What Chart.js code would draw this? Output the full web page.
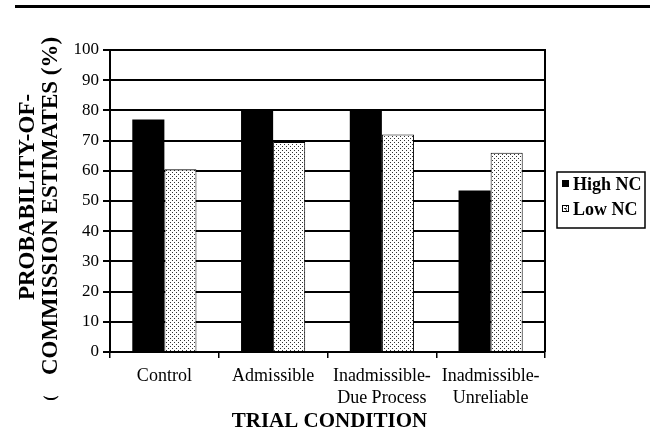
<!DOCTYPE html>
<html>
<head>
<meta charset="utf-8">
<script src="https://cdn.jsdelivr.net/npm/chart.js@4/dist/chart.umd.min.js"></script>
<style>
  html, body { margin: 0; padding: 0; background: #ffffff; }
  #wrap { width: 650px; height: 436px; }
</style>
</head>
<body>
<div id="wrap"><canvas id="c" width="650" height="436"></canvas></div>
<script>
// ---- data ----
const categories = [["Control"], ["Admissible"], ["Inadmissible-", "Due Process"], ["Inadmissible-", "Unreliable"]];
const highNC = [77, 80.5, 80, 53.5];
const lowNC = [60.5, 69.5, 72, 66];
const seriesNames = ["High NC", "Low NC"];
const yTicks = [0, 10, 20, 30, 40, 50, 60, 70, 80, 90, 100];
const yTitleLines = ["PROBABILITY-OF-", "COMMISSION ESTIMATES (%)"];
const xTitle = "TRIAL CONDITION";

// dotted pattern fill
function makePattern() {
  const p = document.createElement('canvas');
  p.width = 4; p.height = 4;
  const g = p.getContext('2d');
  g.fillStyle = '#ffffff'; g.fillRect(0, 0, 4, 4);
  g.fillStyle = '#333333';
  g.fillRect(0, 0, 1, 1);
  g.fillRect(2, 2, 1, 1);
  return g.createPattern(p, 'repeat');
}
const dots = makePattern();

const SERIF = '"Liberation Serif", "Times New Roman", serif';

const decor = {
  id: 'decor',
  beforeDraw(chart) {
    const ctx = chart.ctx;
    ctx.save();
    ctx.fillStyle = '#fff';
    ctx.fillRect(0, 0, chart.width, chart.height);
    // top rule
    ctx.fillStyle = '#000';
    ctx.fillRect(15, 5, 635, 3);
    ctx.restore();
  },
  afterDraw(chart) {
    const ctx = chart.ctx;
    const a = chart.chartArea;
    ctx.save();
    // right border of plot
    ctx.strokeStyle = '#000';
    ctx.lineWidth = 2;
    ctx.beginPath();
    ctx.moveTo(a.right, a.top - 1);
    ctx.lineTo(a.right, a.bottom);
    ctx.stroke();

    // y title (rotated)
    ctx.fillStyle = '#000';
    ctx.font = 'bold 23px ' + SERIF;
    ctx.textAlign = 'center';
    ctx.textBaseline = 'middle';
    const yc = [197, 206];
    const xc = [28, 51];
    for (let i = 0; i < yTitleLines.length; i++) {
      ctx.save();
      ctx.translate(xc[i], yc[i]);
      ctx.rotate(-Math.PI / 2);
      ctx.fillText(yTitleLines[i], 0, 0);
      ctx.restore();
    }
    // stray scanned bracket below title
    ctx.save();
    ctx.translate(51, 398);
    ctx.rotate(-Math.PI / 2);
    ctx.font = 'bold 16px ' + SERIF;
    ctx.fillText('(', 0, 0);
    ctx.restore();

    // x title
    ctx.font = 'bold 21px ' + SERIF;
    ctx.textBaseline = 'alphabetic';
    ctx.fillText(xTitle, (a.left + a.right) / 2 + 2, 427);

    // legend
    const lx = a.right + 12, ly = 172, lw = 88, lh = 56;
    ctx.lineWidth = 1.5;
    ctx.strokeStyle = '#000';
    ctx.strokeRect(lx, ly, lw, lh);
    ctx.font = 'bold 18px ' + SERIF;
    ctx.textAlign = 'left';
    const ds = chart.data.datasets;
    const base = [190, 215];
    for (let i = 0; i < ds.length; i++) {
      const sx = lx + 5, sy = base[i] - 10;
      ctx.fillStyle = ds[i].backgroundColor;
      ctx.fillRect(sx, sy, 7, 7);
      ctx.lineWidth = 1;
      ctx.strokeStyle = '#000';
      ctx.strokeRect(sx + 0.5, sy + 0.5, 6, 6);
      if (i === 1) { ctx.fillStyle = '#000'; ctx.fillRect(sx + 3, sy + 3, 1.5, 1.5); }
      ctx.fillStyle = '#000';
      ctx.fillText(ds[i].label, lx + 16, base[i]);
    }
    ctx.restore();
  }
};

new Chart(document.getElementById('c'), {
  type: 'bar',
  data: {
    labels: categories,
    datasets: [
      { label: seriesNames[0], data: highNC, backgroundColor: '#000000', borderColor: '#000000', borderWidth: 0 },
      { label: seriesNames[1], data: lowNC, backgroundColor: dots, borderColor: '#000000', borderWidth: 1 }
    ]
  },
  options: {
    responsive: false,
    animation: false,
    devicePixelRatio: 1,
    layout: { padding: { top: 50, right: 105, left: 0, bottom: 0 } },
    plugins: { legend: { display: false }, tooltip: { enabled: false } },
    datasets: { bar: { categoryPercentage: 0.59, barPercentage: 1.0 } },
    scales: {
      x: {
        afterFit(s) { s.height = 84; },
        grid: { offset: true, drawOnChartArea: false, color: '#000', lineWidth: 1.5, tickLength: 6 },
        border: { color: '#000', width: 2 },
        ticks: { color: '#000', font: { family: SERIF, size: 18, lineHeight: 1.22 }, padding: 7, maxRotation: 0, autoSkip: false }
      },
      y: {
        min: 0, max: 100,
        afterFit(s) { s.width = 110; },
        afterBuildTicks(s) { s.ticks = yTicks.map(v => ({ value: v })); },
        grid: { color: '#000', lineWidth: 2, tickLength: 7 },
        border: { color: '#000', width: 2 },
        ticks: { color: '#000', font: { family: SERIF, size: 17 }, padding: 4 }
      }
    }
  },
  plugins: [decor]
});
</script>
</body>
</html>
